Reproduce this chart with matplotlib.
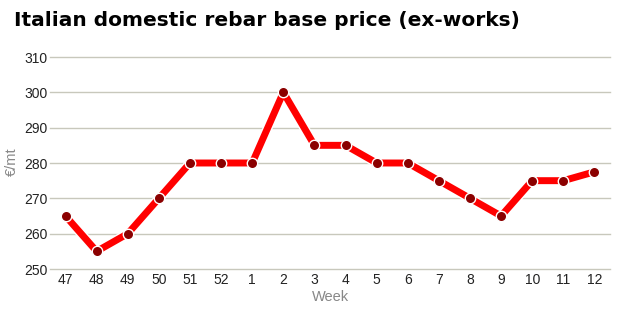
import matplotlib.pyplot as plt
import matplotlib.patheffects as pe

weeks = ['47', '48', '49', '50', '51', '52', '1', '2', '3', '4', '5', '6',
         '7', '8', '9', '10', '11', '12']
prices = [265, 255, 260, 270, 280, 280, 280, 300, 285, 285, 280, 280,
          275, 270, 265, 275, 275, 277.5]
yticks = [250, 260, 270, 280, 290, 300, 310]

plt.rcParams['font.family'] = ['Liberation Sans', 'DejaVu Sans']

fig = plt.figure(figsize=(6.25, 3.09), dpi=100)
ax = fig.add_axes([50 / 625, 1 - 269 / 309, 560 / 625, 212 / 309])

x = list(range(len(weeks)))
ax.plot(x, prices, color='#ff0000', lw=5, solid_capstyle='butt', zorder=3,
        path_effects=[pe.Stroke(linewidth=7, foreground='white'), pe.Normal()])
ax.plot(x, prices, 'o', ms=7.5, color='#8b0000', mec='white', mew=1, zorder=4)

ax.set_xlim(-0.5, len(weeks) - 0.5)
ax.set_ylim(250, 310)
ax.set_yticks(yticks)
ax.set_xticks(x)
ax.set_xticklabels(weeks)
ax.grid(axis='y', color='#c8c8bc', lw=1)
for gl in ax.get_ygridlines():
    gl.set_clip_on(False)
ax.set_axisbelow(True)
for s in ax.spines.values():
    s.set_visible(False)
ax.tick_params(length=0, labelsize=10, colors='#222222')
ax.tick_params(axis='x', pad=3)
ax.tick_params(axis='y', pad=2)

ax.set_xlabel('Week', fontsize=10.5, color='#888888', labelpad=2)
ax.set_ylabel('€/mt', fontsize=10.5, color='#888888')
ax.yaxis.set_label_coords(-31 / 560, (269 - 162) / 212)

fig.text(14 / 625, 1 - 20 / 309, 'Italian domestic rebar base price (ex-works)',
         fontsize=14.5, fontweight='bold', va='center', ha='left',
         family='DejaVu Sans')

fig.savefig('out.png', dpi=100)
